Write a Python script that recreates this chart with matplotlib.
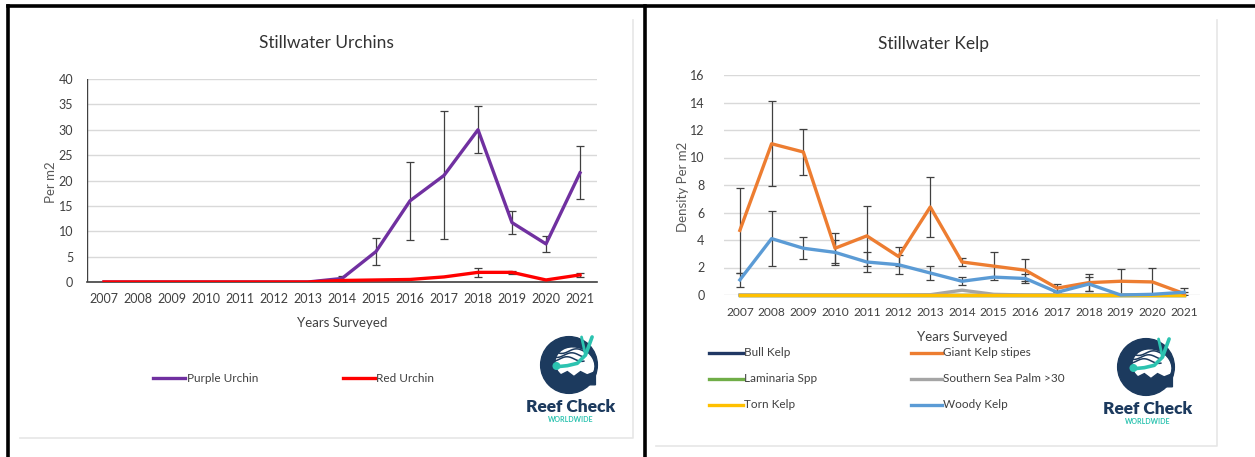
import matplotlib
matplotlib.use("Agg")
import matplotlib.pyplot as plt
from matplotlib.patches import Circle, Rectangle, Ellipse, Polygon
from matplotlib.lines import Line2D
import numpy as np

plt.rcParams['font.family'] = ['Lato', 'DejaVu Sans']

years = ['2007', '2008', '2009', '2010', '2011', '2012', '2013', '2014',
         '2015', '2016', '2017', '2018', '2019', '2020', '2021']

# Urchins (per m2)
purple_urchin = [0, 0, 0, 0, 0, 0, 0, 0.7, 6.0, 16.0, 21.0, 30.0, 11.7, 7.5, 21.5]
purple_err = [0, 0, 0, 0, 0, 0, 0, 0.5, 2.7, 7.7, 12.6, 4.6, 2.2, 1.5, 5.2]
red_urchin = [0, 0, 0, 0, 0, 0, 0, 0.3, 0.4, 0.5, 1.0, 1.9, 1.9, 0.4, 1.4]
red_err = [0, 0, 0, 0, 0, 0, 0, 0, 0, 0, 0, 0.9, 0.3, 0, 0.4]

# Kelp (density per m2)
bull_kelp = [0] * 15
giant_kelp = [4.7, 11.0, 10.4, 3.4, 4.3, 2.8, 6.4, 2.4, 2.1, 1.8, 0.5, 0.9, 1.0, 0.95, 0.1]
giant_err = [3.1, 3.1, 1.7, 1.1, 2.2, 0.7, 2.2, 0.3, 1.0, 0.8, 0.3, 0.6, 0.9, 1.0, 0.1]
laminaria = [0] * 15
sea_palm = [0, 0, 0, 0, 0, 0, 0.02, 0.35, 0.05, 0, 0, 0, 0, 0, 0]
torn_kelp = [0] * 15
woody_kelp = [1.1, 4.1, 3.4, 3.1, 2.4, 2.2, 1.6, 1.0, 1.3, 1.2, 0.2, 0.8, 0.0, 0.05, 0.2]
woody_err = [0.5, 2.0, 0.8, 0.9, 0.7, 0.7, 0.5, 0.3, 0, 0.3, 0, 0.5, 0, 0, 0.3]

W, H = 1255, 457
fig = plt.figure(figsize=(W / 100, H / 100), dpi=100)
fig.patch.set_facecolor('white')


def rect(x0, y0, x1, y1):
    return [x0 / W, 1 - y1 / H, (x1 - x0) / W, (y1 - y0) / H]


def fx(x):
    return x / W


def fy(y):
    return 1 - y / H


# outer black table borders
fig.add_artist(Line2D([fx(8), fx(1255)], [fy(6), fy(6)], color='black', lw=2.6))
fig.add_artist(Line2D([fx(8), fx(8)], [fy(6), fy(457)], color='black', lw=2.6))
fig.add_artist(Line2D([fx(644.5), fx(644.5)], [fy(6), fy(457)], color='black', lw=2.6))

# light inner chart frames
fig.add_artist(Line2D([fx(20), fx(633), fx(633)], [fy(438), fy(438), fy(20)], color='#e6e6e6', lw=1.2))
fig.add_artist(Line2D([fx(656), fx(1217), fx(1217)], [fy(446), fy(446), fy(20)], color='#e6e6e6', lw=1.2))

TXT = '#595959'
ERR = '#404040'
x = np.arange(len(years))


def style_axes(ax, ymax, step):
    ax.set_xlim(-0.5, len(years) - 0.5)
    ax.set_ylim(0, ymax)
    ax.set_yticks(np.arange(0, ymax + 0.01, step))
    ax.set_xticks(x)
    ax.set_xticklabels(years)
    ax.grid(axis='y', color='#d9d9d9', lw=1.0)
    ax.set_axisbelow(True)
    for s in ['top', 'right']:
        ax.spines[s].set_visible(False)
    ax.tick_params(length=0, labelsize=9, colors='#404040', pad=8)


# ---------------- Urchins ----------------
ax1 = fig.add_axes(rect(87, 79, 597, 282))
style_axes(ax1, 40, 5)
ax1.spines['left'].set_visible(False)
ax1.spines['bottom'].set_color('#404040')
ax1.spines['bottom'].set_linewidth(1.2)
ax1.axvline(-0.5, color='#404040', lw=1.0)
ax1.tick_params(axis='y', pad=10)
mask_p = np.array(purple_err) > 0
ax1.errorbar(x[mask_p], np.array(purple_urchin)[mask_p], yerr=np.array(purple_err)[mask_p],
             fmt='none', ecolor=ERR, elinewidth=0.9, capsize=3, capthick=0.9, zorder=2)
mask_r = np.array(red_err) > 0
ax1.errorbar(x[mask_r], np.array(red_urchin)[mask_r], yerr=np.array(red_err)[mask_r],
             fmt='none', ecolor=ERR, elinewidth=0.9, capsize=3, capthick=0.9, zorder=2)
ax1.plot(x, purple_urchin, color='#7030A0', lw=2.4, label='Purple Urchin', zorder=3)
ax1.plot(x, red_urchin, color='#FF0000', lw=2.4, label='Red Urchin', zorder=4)
fig.text(fx(326), fy(43), 'Stillwater Urchins', ha='center', va='center', fontsize=12.5, color='#333333')
fig.text(fx(342), fy(323), 'Years Surveyed', ha='center', va='center', fontsize=9.5, color='#404040')
fig.text(fx(51), fy(182), 'Per m2', ha='center', va='center', rotation=90, fontsize=9.5, color=TXT)
# legend
for (x0, x1, tx, col, lab) in [(153, 185, 187, '#7030A0', 'Purple Urchin'),
                               (343, 375, 376, '#FF0000', 'Red Urchin')]:
    fig.add_artist(Line2D([fx(x0), fx(x1)], [fy(378), fy(378)], color=col, lw=2.4))
    fig.text(fx(tx), fy(378), lab, ha='left', va='center', fontsize=8.5, color='#404040')

# ---------------- Kelp ----------------
ax2 = fig.add_axes(rect(724, 75, 1200, 295))
style_axes(ax2, 16, 2)
ax2.spines['left'].set_visible(False)
ax2.spines['bottom'].set_visible(False)
ax2.tick_params(axis='y', pad=14)
ax2.tick_params(axis='x', labelsize=8.6, pad=9)
mask_g = np.array(giant_err) > 0
ax2.errorbar(x[mask_g], np.array(giant_kelp)[mask_g], yerr=np.array(giant_err)[mask_g],
             fmt='none', ecolor=ERR, elinewidth=0.9, capsize=3, capthick=0.9, zorder=2)
mask_w = np.array(woody_err) > 0
ax2.errorbar(x[mask_w], np.array(woody_kelp)[mask_w], yerr=np.array(woody_err)[mask_w],
             fmt='none', ecolor=ERR, elinewidth=0.9, capsize=3, capthick=0.9, zorder=2)
kelp_series = [
    (bull_kelp, '#203864', 'Bull Kelp'),
    (giant_kelp, '#ED7D31', 'Giant Kelp stipes'),
    (laminaria, '#70AD47', 'Laminaria Spp'),
    (sea_palm, '#A5A5A5', 'Southern Sea Palm >30'),
    (torn_kelp, '#FFC000', 'Torn Kelp'),
    (woody_kelp, '#5B9BD5', 'Woody Kelp'),
]
z = {'Bull Kelp': 3, 'Laminaria Spp': 3.1, 'Southern Sea Palm >30': 3.2, 'Torn Kelp': 3.3,
     'Woody Kelp': 3.5, 'Giant Kelp stipes': 3.4}
for vals, col, lab in kelp_series:
    ax2.plot(x, vals, color=col, lw=2.4, label=lab, zorder=z[lab], clip_on=False)
fig.text(fx(934), fy(44), 'Stillwater Kelp', ha='center', va='center', fontsize=12.5, color='#333333')
fig.text(fx(962), fy(337), 'Years Surveyed', ha='center', va='center', fontsize=9.5, color='#404040')
fig.text(fx(683), fy(187), 'Density Per m2', ha='center', va='center', rotation=90, fontsize=9.5, color=TXT)
rows = [353, 379, 405]
for i, (vals, col, lab) in enumerate(kelp_series):
    r = rows[i // 2]
    if i % 2 == 0:
        x0, x1, tx = 709, 743, 744
    else:
        x0, x1, tx = 911, 942, 943
    fig.add_artist(Line2D([fx(x0), fx(x1)], [fy(r), fy(r)], color=col, lw=2.4))
    fig.text(fx(tx), fy(r), lab, ha='left', va='center', fontsize=8.5, color='#404040')


# ---------------- Logos ----------------
def logo(cx, cy, ty, wy):
    size = 66
    lax = fig.add_axes(rect(cx - size / 2, cy - size / 2, cx + size / 2, cy + size / 2))
    lax.set_xlim(-1, 1)
    lax.set_ylim(-1, 1)
    lax.set_aspect('equal')
    lax.axis('off')
    navy = '#1c3a5e'
    teal = '#2cc3b0'
    lax.add_patch(Circle((0, 0), 0.86, color=navy))
    # white inner region (upper right)
    lax.add_patch(Ellipse((0.18, 0.02), 1.15, 0.95, angle=-20, color='white'))
    # reef at bottom
    lax.add_patch(Polygon([(-0.6, -0.25), (-0.4, -0.15), (-0.25, -0.3), (-0.05, -0.2),
                           (0.15, -0.35), (0.35, -0.2), (0.55, -0.3), (0.8, -0.2),
                           (0.8, -0.6), (-0.6, -0.6)], closed=True, color=navy))
    # waves (kelp/hair)
    t = np.linspace(-0.55, 0.45, 30)
    for k, off in enumerate([0.42, 0.3, 0.18]):
        lax.plot(t, off + 0.07 * np.sin(7 * t + k), color=navy, lw=1.1)
    # diver
    lax.plot([-0.35, -0.05, 0.25, 0.5, 0.7], [-0.05, -0.02, 0.05, 0.3, 0.85],
             color=teal, lw=2.6, solid_capstyle='round')
    lax.plot([0.5, 0.38], [0.3, 0.85], color=teal, lw=2.0, solid_capstyle='round')
    lax.add_patch(Circle((-0.38, -0.03), 0.1, color=teal))
    fig.text(fx(cx + 2), fy(ty), 'Reef Check', ha='center', va='center', fontsize=12.5,
             fontweight='heavy', color=navy)
    fig.text(fx(cx + 2), fy(wy), 'WORLDWIDE', ha='center', va='center', fontsize=5,
             fontweight='bold', color=teal)


logo(569, 365, 407, 419)
logo(1146, 367, 409, 422)

fig.savefig('out.png', dpi=100, facecolor='white')
